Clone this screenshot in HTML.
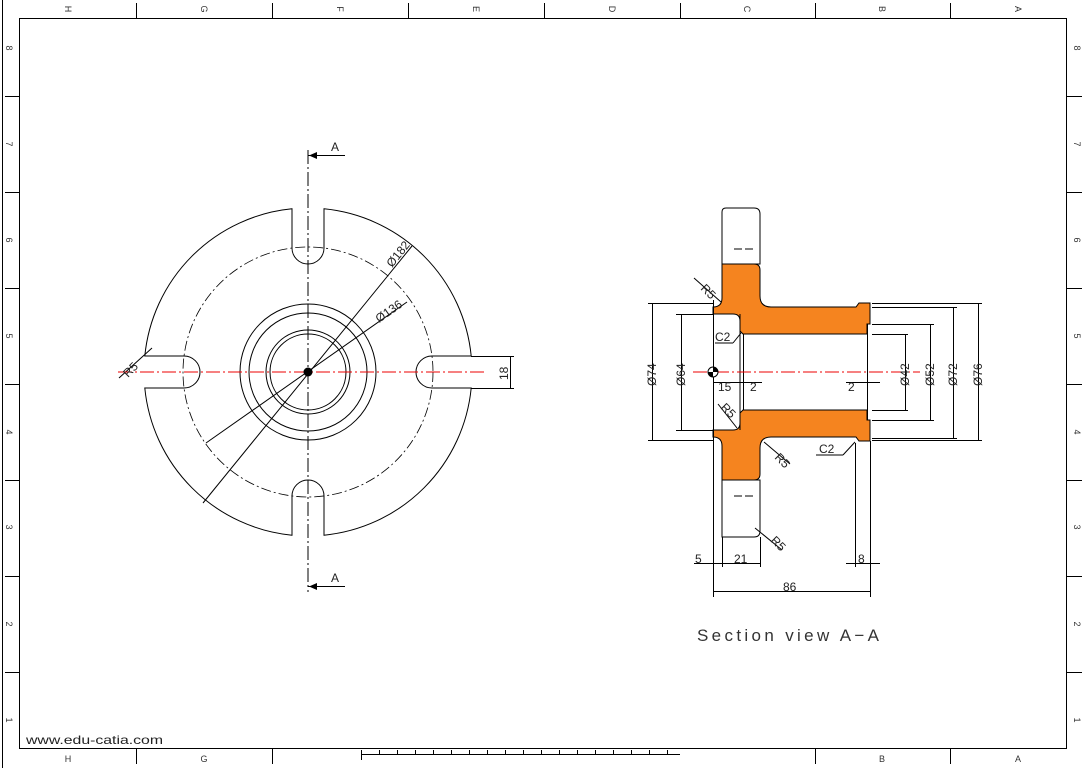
<!DOCTYPE html>
<html><head><meta charset="utf-8"><style>
html,body{margin:0;padding:0;background:#fff;}
svg{display:block;font-family:"Liberation Sans",sans-serif;}
</style></head><body>
<svg width="1086" height="768" viewBox="0 0 1086 768" xmlns="http://www.w3.org/2000/svg">
<rect width="1086" height="768" fill="#fff"/>
<!-- frame -->
<g stroke="#000" fill="none" stroke-width="1">
<line x1="2.5" y1="0" x2="2.5" y2="768"/>
<rect x="19.5" y="18.5" width="1047" height="730"/>
<g>
<line x1="136.5" y1="3" x2="136.5" y2="18"/><line x1="272.5" y1="3" x2="272.5" y2="18"/><line x1="408.5" y1="3" x2="408.5" y2="18"/><line x1="544.5" y1="3" x2="544.5" y2="18"/><line x1="680.5" y1="3" x2="680.5" y2="18"/><line x1="815.5" y1="3" x2="815.5" y2="18"/><line x1="950.5" y1="3" x2="950.5" y2="18"/>
<line x1="136.5" y1="749" x2="136.5" y2="764"/><line x1="272.5" y1="749" x2="272.5" y2="764"/><line x1="815.5" y1="749" x2="815.5" y2="764"/><line x1="950.5" y1="749" x2="950.5" y2="764"/>
<line x1="5" y1="96.5" x2="19" y2="96.5"/><line x1="5" y1="192.5" x2="19" y2="192.5"/><line x1="5" y1="288.5" x2="19" y2="288.5"/><line x1="5" y1="384.5" x2="19" y2="384.5"/><line x1="5" y1="480.5" x2="19" y2="480.5"/><line x1="5" y1="576.5" x2="19" y2="576.5"/><line x1="5" y1="672.5" x2="19" y2="672.5"/>
<line x1="1067" y1="96.5" x2="1082" y2="96.5"/><line x1="1067" y1="192.5" x2="1082" y2="192.5"/><line x1="1067" y1="288.5" x2="1082" y2="288.5"/><line x1="1067" y1="384.5" x2="1082" y2="384.5"/><line x1="1067" y1="480.5" x2="1082" y2="480.5"/><line x1="1067" y1="576.5" x2="1082" y2="576.5"/><line x1="1067" y1="672.5" x2="1082" y2="672.5"/>
<!-- scale bar -->
<line x1="361" y1="754.5" x2="680" y2="754.5"/>
<line x1="361.5" y1="750" x2="361.5" y2="760"/>
<path d="M379.5 750v5M397.5 750v5M415.5 750v5M433.5 750v5M451.5 750v5M469.5 750v5M487.5 750v5M505.5 750v5M523.5 750v5M541.5 750v5M559.5 750v5M577.5 750v5M595.5 750v5M613.5 750v5M631.5 750v5M649.5 750v5M667.5 750v5"/>
</g>
</g>
<g font-size="9" fill="#333" text-anchor="middle">
<text transform="translate(68,9) rotate(90)" dy="3">H</text>
<text transform="translate(204,9) rotate(90)" dy="3">G</text>
<text transform="translate(340,9) rotate(90)" dy="3">F</text>
<text transform="translate(476,9) rotate(90)" dy="3">E</text>
<text transform="translate(612,9) rotate(90)" dy="3">D</text>
<text transform="translate(747,9) rotate(90)" dy="3">C</text>
<text transform="translate(882,9) rotate(90)" dy="3">B</text>
<text transform="translate(1018,9) rotate(90)" dy="3">A</text>
<text x="68" y="762">H</text><text x="204" y="762">G</text><text x="882" y="762">B</text><text x="1018" y="762">A</text>
<text transform="translate(9,48) rotate(90)" dy="3">8</text>
<text transform="translate(9,144) rotate(90)" dy="3">7</text>
<text transform="translate(9,240) rotate(90)" dy="3">6</text>
<text transform="translate(9,336) rotate(90)" dy="3">5</text>
<text transform="translate(9,432) rotate(90)" dy="3">4</text>
<text transform="translate(9,527) rotate(90)" dy="3">3</text>
<text transform="translate(9,624) rotate(90)" dy="3">2</text>
<text transform="translate(9,720) rotate(90)" dy="3">1</text>
<text transform="translate(1077,48) rotate(90)" dy="3">8</text>
<text transform="translate(1077,144) rotate(90)" dy="3">7</text>
<text transform="translate(1077,240) rotate(90)" dy="3">6</text>
<text transform="translate(1077,336) rotate(90)" dy="3">5</text>
<text transform="translate(1077,432) rotate(90)" dy="3">4</text>
<text transform="translate(1077,527) rotate(90)" dy="3">3</text>
<text transform="translate(1077,624) rotate(90)" dy="3">2</text>
<text transform="translate(1077,720) rotate(90)" dy="3">1</text>
</g>
<text x="26" y="744" font-size="12" fill="#222" textLength="137" lengthAdjust="spacingAndGlyphs">www.edu-catia.com</text>

<!-- LEFT VIEW -->
<g fill="none" stroke="#000" stroke-width="1">
<path d="M324 208.8 L324 248 A16 16 0 0 1 292 248 L292 208.8 A164 164 0 0 0 144.8 356 L184 356 A16 16 0 0 1 184 388 L144.8 388 A164 164 0 0 0 292 535.2 L292 496 A16 16 0 0 1 324 496 L324 535.2 A164 164 0 0 0 471.2 388 L432 388 A16 16 0 0 1 432 356 L471.2 356 A164 164 0 0 0 324 208.8 Z"/>
<circle cx="308" cy="372" r="125" stroke-dasharray="10 3 2 3" stroke-width="0.8"/>
<circle cx="308" cy="372" r="68"/>
<circle cx="308" cy="372" r="59"/>
<circle cx="308" cy="372" r="42"/>
<circle cx="308" cy="372" r="38"/>
<line x1="308" y1="150" x2="308" y2="592" stroke-dasharray="14 3 2 3"/>
<line x1="203" y1="503" x2="412" y2="246"/>
<line x1="206" y1="443" x2="407" y2="302"/>
<line x1="119" y1="378" x2="152" y2="348"/>
<line x1="471" y1="356.5" x2="514" y2="356.5"/>
<line x1="471" y1="388.5" x2="514" y2="388.5"/>
<line x1="510.5" y1="356" x2="510.5" y2="389"/>
<line x1="308" y1="155.5" x2="345" y2="155.5"/>
<line x1="308" y1="586.5" x2="345" y2="586.5"/>
</g>
<path d="M309 155.5 L317 152 L317 159 Z M309 586.5 L317 583 L317 590 Z" fill="#000"/>
<line x1="118" y1="372" x2="487" y2="372" stroke="#e00" stroke-width="1" stroke-dasharray="14 3 2 3"/>
<circle cx="308" cy="372" r="4.5" fill="#000"/>
<g font-size="12" fill="#222">
<text x="331" y="151">A</text>
<text x="331" y="582">A</text>
<text transform="translate(392,268) rotate(-51)">Ø182</text>
<text transform="translate(379,323) rotate(-35)">Ø136</text>
<text transform="translate(128,378) rotate(-45)">R5</text>
<text transform="translate(508,380) rotate(-90)">18</text>
</g>

<!-- SECTION VIEW -->
<g stroke="#000" stroke-width="1">
<path d="M722 264 L722 212 Q722 208 726 208 L754 208 Q760 208 760 214 L760 264 Z" fill="#fff"/>
<path d="M722 480 L722 537 L754 537 Q760 537 760 531 L760 480 Z" fill="#fff"/>
<path d="M722,264 L754,264 Q760,264 760,270 L760,296 Q760,307 771,307 L856,307 L859,303 L870,303 L870,324 L867,324 L867,334 L743,334 L740,331 L740,321 Q740,314 733,314 L713,314 L713,307 Q722,307 722,298 Z" fill="#f5841f"/>
<path d="M722,480 L754,480 Q760,480 760,474 L760,448 Q760,437 771,437 L856,437 L859,441 L870,441 L870,420 L867,420 L867,410 L743,410 L740,413 L740,423 Q740,430 733,430 L713,430 L713,437 Q722,437 722,446 Z" fill="#f5841f"/>
</g>
<g fill="none" stroke="#000" stroke-width="1">
<line x1="743.5" y1="334" x2="743.5" y2="410"/>
<line x1="867.5" y1="324" x2="867.5" y2="420"/>
<line x1="713.5" y1="300" x2="713.5" y2="597"/>
<line x1="740" y1="314" x2="740" y2="430"/>
<line x1="734" y1="249" x2="755" y2="249" stroke-dasharray="8 3"/>
<line x1="734" y1="496" x2="755" y2="496" stroke-dasharray="8 3"/>
<!-- left dims -->
<line x1="648" y1="303.5" x2="713" y2="303.5"/>
<line x1="648" y1="440.5" x2="713" y2="440.5"/>
<line x1="652.5" y1="303" x2="652.5" y2="441"/>
<line x1="676" y1="314.5" x2="713" y2="314.5"/>
<line x1="676" y1="430.5" x2="713" y2="430.5"/>
<line x1="681.5" y1="314" x2="681.5" y2="431"/>
<!-- right dims -->
<line x1="872" y1="303.5" x2="982" y2="303.5"/>
<line x1="872" y1="440.5" x2="982" y2="440.5"/>
<line x1="978.5" y1="303" x2="978.5" y2="441"/>
<line x1="872" y1="307.5" x2="957" y2="307.5"/>
<line x1="872" y1="438.5" x2="957" y2="438.5"/>
<line x1="953.5" y1="307" x2="953.5" y2="439"/>
<line x1="872" y1="324.5" x2="934" y2="324.5"/>
<line x1="872" y1="420.5" x2="934" y2="420.5"/>
<line x1="930.5" y1="324" x2="930.5" y2="421"/>
<line x1="872" y1="334.5" x2="908" y2="334.5"/>
<line x1="872" y1="410.5" x2="908" y2="410.5"/>
<line x1="905.5" y1="334" x2="905.5" y2="411"/>
<!-- small horiz dims -->
<line x1="713" y1="382.5" x2="762" y2="382.5"/>
<line x1="846" y1="382.5" x2="880" y2="382.5"/>
<!-- bottom dims -->
<line x1="722.5" y1="537" x2="722.5" y2="567"/>
<line x1="760.5" y1="537" x2="760.5" y2="567"/>
<line x1="855.5" y1="443" x2="855.5" y2="567"/>
<line x1="870.5" y1="441" x2="870.5" y2="597"/>
<line x1="694" y1="563.5" x2="760" y2="563.5"/>
<line x1="846" y1="563.5" x2="880" y2="563.5"/>
<line x1="713" y1="591.5" x2="870" y2="591.5"/>
<!-- leaders -->
<line x1="694" y1="278" x2="721" y2="302"/>
<line x1="715" y1="343" x2="733" y2="343"/><line x1="733" y1="343" x2="741" y2="333"/>
<line x1="718" y1="404" x2="737" y2="428"/>
<line x1="764" y1="442" x2="790" y2="464"/>
<line x1="816" y1="455" x2="843" y2="455"/><line x1="843" y1="455" x2="855" y2="442"/>
<line x1="755" y1="528" x2="782" y2="550"/>
</g>
<line x1="693" y1="372" x2="920" y2="372" stroke="#e00" stroke-width="1" stroke-dasharray="14 3 2 3"/>
<circle cx="713" cy="372" r="5" fill="#fff" stroke="#000"/>
<path d="M713 367 A5 5 0 0 1 718 372 L713 372 Z M713 377 A5 5 0 0 1 708 372 L713 372 Z" fill="#000"/>
<g font-size="12" fill="#222">
<text transform="translate(656,386) rotate(-90)">Ø74</text>
<text transform="translate(685,386) rotate(-90)">Ø64</text>
<text transform="translate(909,386) rotate(-90)">Ø42</text>
<text transform="translate(934,386) rotate(-90)">Ø52</text>
<text transform="translate(957,386) rotate(-90)">Ø72</text>
<text transform="translate(982,386) rotate(-90)">Ø76</text>
<text x="718" y="391">15</text>
<text x="750" y="391">2</text>
<text x="848" y="391">2</text>
<text x="695" y="563">5</text>
<text x="734" y="563">21</text>
<text x="858" y="563">8</text>
<text x="783" y="591">86</text>
<text x="715" y="341">C2</text>
<text x="819" y="453">C2</text>
<text transform="translate(700,289) rotate(45)">R5</text>
<text transform="translate(720,408) rotate(45)">R5</text>
<text transform="translate(774,458) rotate(45)">R5</text>
<text transform="translate(770,541) rotate(45)">R5</text>
</g>
<text x="697" y="641" font-size="17" fill="#333" textLength="182" lengthAdjust="spacing">Section view A−A</text>
</svg>
</body></html>
